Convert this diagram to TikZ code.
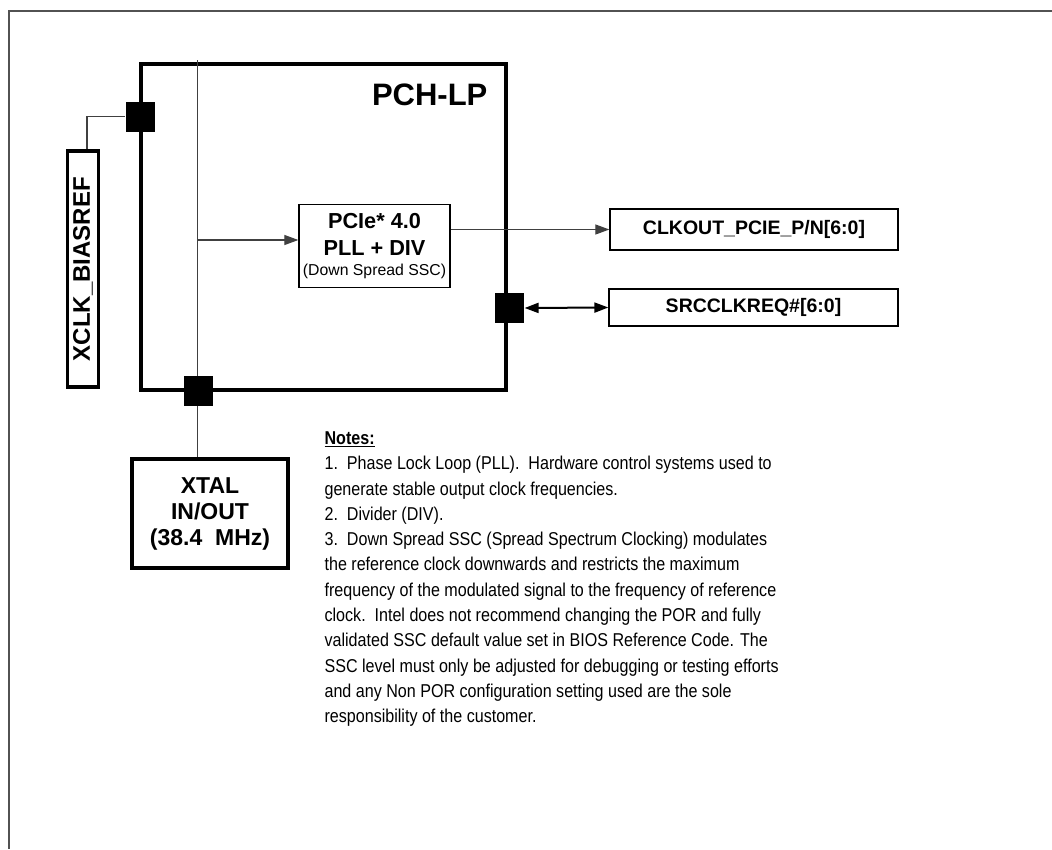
\documentclass[tikz,border=0pt]{standalone}
\usepackage{fontspec}
\setmainfont{Liberation Sans}
\newfontfamily\notasfont[FakeStretch=0.865]{Liberation Sans}
\usetikzlibrary{arrows.meta}

\begin{document}
\begin{tikzpicture}[x=1pt,y=-1pt,line width=1.2pt,>={Triangle[length=14pt,width=10pt]},
  gruesa/.style={draw,line width=3.3pt,inner sep=0pt},
  delgada/.style={draw,line width=1.3pt,inner sep=0pt},
  pinbox/.style={fill=black,minimum width=29pt,minimum height=30pt,inner sep=0pt},
  fina/.style={draw=black!75,line width=1.2pt}]
  \useasboundingbox (0,0) rectangle (1052,849);
  % marco
  \draw[black!68,line width=2pt] (1052,10.5) -- (8.5,10.5) -- (8.5,849);
  % PCH-LP
  \node[gruesa,minimum width=365pt,minimum height=326pt] (pch) at (323.5,227) {};
  \node[inner sep=0pt,anchor=east,font=\bfseries\fontsize{31}{36}\selectfont] (pchtxt) at (488,95) {PCH-LP};
  \node[delgada,minimum width=151pt,minimum height=83pt,align=center,
    font=\bfseries\fontsize{21.7}{27.7}\selectfont] (pll) at (374.5,246)
    {PCIe* 4.0\\PLL + DIV\\[-8pt]{\mdseries\fontsize{15.8}{19.7}\selectfont (Down Spread SSC)}};
  % entradas
  \node[gruesa,rotate=90,minimum width=236pt,minimum height=31pt,
    font=\bfseries\fontsize{24}{28}\selectfont] (bias) at (83,269) {XCLK\_BIASREF};
  \node[gruesa,minimum width=156pt,minimum height=109pt,align=center,
    font=\bfseries\fontsize{23}{26}\selectfont] (xtal) at (210,513.5) {XTAL\\IN/OUT\\(38.4\ \ MHz)};
  % salidas
  \node[delgada,minimum width=288pt,minimum height=41pt,font=\bfseries\fontsize{19.5}{23}\selectfont] (clk) at (754,229.5) {CLKOUT\_PCIE\_P/N[6:0]};
  \node[delgada,minimum width=289pt,minimum height=37pt,font=\bfseries\fontsize{19.5}{23}\selectfont] (src) at (753.5,307.5) {SRCCLKREQ\#[6:0]};
  % conexiones
  \coordinate (arriba) at (197.5,60);
  \coordinate (toma) at (197.5,240);
  \draw[fina] (arriba) -- (arriba |- xtal.north);
  \draw[fina,->] (toma) -- (toma -| pll.west);
  \draw[fina,->] (pll.east |- clk.west) -- (clk.west);
  \node[pinbox] (pbias) at (140.5,116.5) {};
  \node[pinbox] (pxtal) at (198,390.5) {};
  \node[pinbox] (psrc) at (509.5,308) {};
  \draw[fina] ([xshift=4pt]bias.east) |- (pbias.west);
  \draw[<->,line width=2pt] (psrc.east) -- (src.west);
  % notas
  \node[anchor=north west,align=left,inner sep=0pt,font=\notasfont\fontsize{18.6}{25.3}\selectfont] (notas) at (324,431)
    {\underline{\textbf{Notes:}}\\
     1.\ \ Phase Lock Loop (PLL).\ \ Hardware control systems used to\\
     generate stable output clock frequencies.\\
     2.\ \ Divider (DIV).\\
     3.\ \ Down Spread SSC (Spread Spectrum Clocking) modulates\\
     the reference clock downwards and restricts the maximum\\
     frequency of the modulated signal to the frequency of reference\\
     clock.\ \ Intel does not recommend changing the POR and fully\\
     validated SSC default value set in BIOS Reference Code. The\\
     SSC level must only be adjusted for debugging or testing efforts\\
     and any Non POR configuration setting used are the sole\\
     responsibility of the customer.};
\end{tikzpicture}
\end{document}
